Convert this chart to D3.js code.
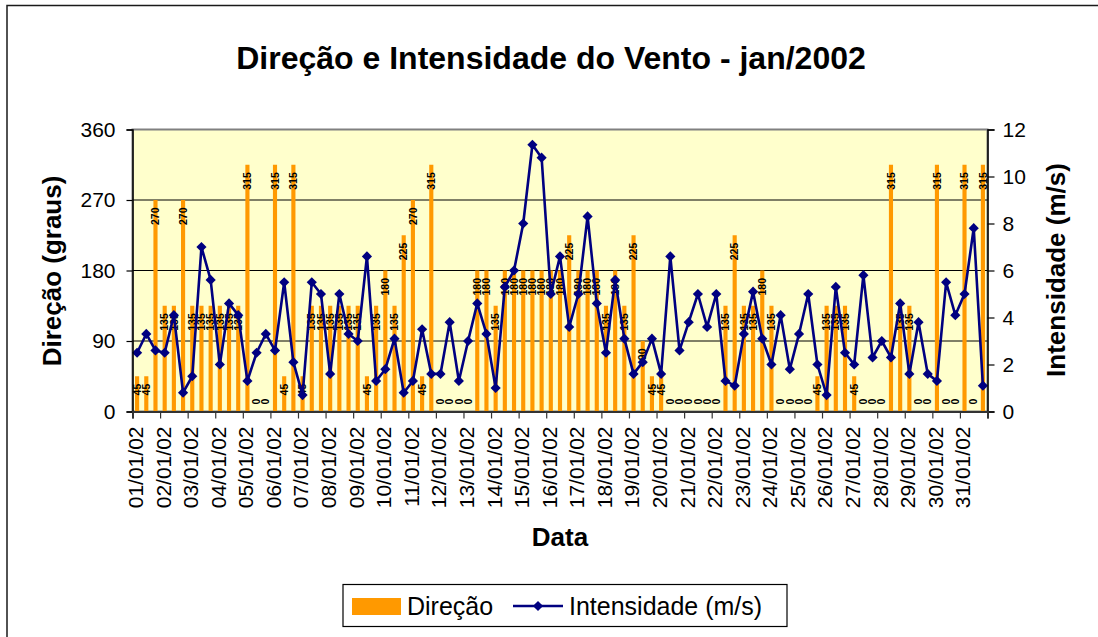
<!DOCTYPE html>
<html>
<head>
<meta charset="utf-8">
<script src="https://cdn.jsdelivr.net/npm/d3@7"></script>
<style>
  html, body { margin: 0; padding: 0; background: #fff; }
  svg { display: block; }
  text { font-family: "Liberation Sans", Arial, sans-serif; }
</style>
</head>
<body>
<svg id="chart" width="1098" height="637"></svg>
<script>
// Day labels shown under the axis (one per day, three observations per day)
const days = [
  "01/01/02","02/01/02","03/01/02","04/01/02","05/01/02","06/01/02","07/01/02","08/01/02",
  "09/01/02","10/01/02","11/01/02","12/01/02","13/01/02","14/01/02","15/01/02","16/01/02",
  "17/01/02","18/01/02","19/01/02","20/01/02","21/01/02","22/01/02","23/01/02","24/01/02",
  "25/01/02","26/01/02","27/01/02","28/01/02","29/01/02","30/01/02","31/01/02"
];

// Wind direction (degrees) for each observation
const direcao = [
  45, 45, 270, 135, 135, 270, 135, 135, 135, 135, 135, 135, 315, 0, 0,
  315, 45, 315, 45, 135, 135, 135, 135, 135, 135, 45, 135, 180, 135, 225, 270,
  45, 315, 0, 0, 0, 0, 180, 180, 135, 180, 180, 180, 180, 180, 180, 180,
  225, 180, 180, 180, 135, 180, 135, 225, 90, 45, 45, 0, 0, 0, 0, 0, 0,
  135, 225, 135, 135, 180, 135, 0, 0, 0, 0, 45, 135, 135, 135,
  45, 0, 0, 0, 315, 135, 135, 0, 0, 315, 0, 0, 315, 0, 315
];

// Wind speed (m/s) for each observation
const intensidade = [
  2.5, 3.3, 2.6, 2.5, 4.1, 0.8, 1.5, 7.0, 5.6, 2.0, 4.6, 4.1, 1.3, 2.5, 3.3,
  2.6, 5.5, 2.1, 0.7, 5.5, 5.0, 1.6, 5.0, 3.3, 3.0, 6.6, 1.3, 1.8, 3.1, 0.8, 1.3,
  3.5, 1.6, 1.6, 3.8, 1.3, 3.0, 4.6, 3.3, 1.0, 5.3, 6.0, 8.0, 11.35, 10.8, 5.0, 6.6,
  3.6, 5.0, 8.3, 4.6, 2.5, 5.6, 3.1, 1.6, 2.1, 3.1, 1.6, 6.6, 2.6, 3.8, 5.0, 3.6, 5.0,
  1.3, 1.1, 3.3, 5.1, 3.1, 2.0, 4.1, 1.8, 3.3, 5.0, 2.0, 0.7, 5.3, 2.5,
  2.0, 5.8, 2.3, 3.0, 2.3, 4.6, 1.6, 3.8, 1.6, 1.3, 5.5, 4.1, 5.0, 7.8, 1.1
];

const dirTicks = [0, 90, 180, 270, 360];
const velTicks = [0, 2, 4, 6, 8, 10, 12];

const svg = d3.select("#chart");
const FONT = '"Liberation Sans", Arial, sans-serif';

const plot = { left: 132.5, right: 987.5, top: 129.5, bottom: 411.5 };
const n = direcao.length;
const perDay = 3;

// Outer chart frame
svg.append("rect")
  .attr("x", 7).attr("y", 5.5)
  .attr("width", 1200).attr("height", 800)
  .attr("fill", "#fff").attr("stroke", "#1a1a1a").attr("stroke-width", 1.5);

// Scales
const x = d3.scaleBand()
  .domain(d3.range(n))
  .range([plot.left, plot.right])
  .paddingInner(0.55)
  .paddingOuter(0.275);
const xEdge = d3.scaleLinear().domain([0, n]).range([plot.left, plot.right]);
const yL = d3.scaleLinear().domain([0, 360]).range([plot.bottom, plot.top]);
const yR = d3.scaleLinear().domain([0, 12]).range([plot.bottom, plot.top]);

// Plot background
svg.append("rect")
  .attr("x", plot.left).attr("y", plot.top)
  .attr("width", plot.right - plot.left).attr("height", plot.bottom - plot.top)
  .attr("fill", "#FFFFCC").attr("stroke", "#808080").attr("stroke-width", 2);

// Horizontal gridlines
svg.append("g")
  .selectAll("line")
  .data(dirTicks.filter(d => d > 0 && d < 360))
  .join("line")
  .attr("x1", plot.left).attr("x2", plot.right)
  .attr("y1", d => yL(d)).attr("y2", d => yL(d))
  .attr("stroke", "#000").attr("stroke-width", 1);

// Bars: direction
svg.append("g")
  .selectAll("rect")
  .data(direcao)
  .join("rect")
  .attr("x", (d, i) => x(i))
  .attr("width", x.bandwidth())
  .attr("y", d => yL(d))
  .attr("height", d => yL(0) - yL(d))
  .attr("fill", "#FF9900");

// Bar value labels, rotated, placed just inside the top of each bar
const lbl = svg.append("g")
  .selectAll("text")
  .data(direcao)
  .join("text")
  .attr("font-family", FONT)
  .attr("font-size", 10.5)
  .attr("font-weight", "bold")
  .attr("fill", "#000")
  .attr("dy", "0.35em")
  .text(d => d);
lbl.each(function (d, i) {
  const t = d3.select(this);
  const len = this.getComputedTextLength();
  const cx = x(i) + x.bandwidth() / 2;
  const top = yL(d);
  if (yL(0) - top >= len + 15) {
    t.attr("text-anchor", "end")
      .attr("transform", `translate(${cx},${top + 7.5}) rotate(-90)`);
  } else {
    t.attr("text-anchor", "start")
      .attr("transform", `translate(${cx},${yL(0) - 7}) rotate(-90)`);
  }
});

// Line: intensity
const line = d3.line()
  .x((d, i) => x(i) + x.bandwidth() / 2)
  .y(d => yR(d));
svg.append("path")
  .datum(intensidade)
  .attr("d", line)
  .attr("fill", "none")
  .attr("stroke", "#000080")
  .attr("stroke-width", 2.6)
  .attr("stroke-linejoin", "round");

const diamond = d3.symbol().type(d3.symbolDiamond2).size(66);
svg.append("g")
  .selectAll("path")
  .data(intensidade)
  .join("path")
  .attr("d", diamond)
  .attr("transform", (d, i) => `translate(${x(i) + x.bandwidth() / 2},${yR(d)})`)
  .attr("fill", "#000080");

// Left axis
const axL = svg.append("g")
  .attr("transform", `translate(${plot.left},0)`)
  .call(d3.axisLeft(yL).tickValues(dirTicks).tickSize(6).tickPadding(11));
axL.select(".domain").attr("stroke", "#000").attr("stroke-width", 1.5);
axL.selectAll(".tick line").attr("stroke", "#000").attr("stroke-width", 1.2);
axL.selectAll(".tick text").attr("font-family", FONT).attr("font-size", 21).attr("fill", "#000");

// Right axis
const axR = svg.append("g")
  .attr("transform", `translate(${plot.right},0)`)
  .call(d3.axisRight(yR).tickValues(velTicks).tickSize(7).tickPadding(8));
axR.select(".domain").attr("stroke", "#000").attr("stroke-width", 1.5);
axR.selectAll(".tick line").attr("stroke", "#000").attr("stroke-width", 1.2);
axR.selectAll(".tick text").attr("font-family", FONT).attr("font-size", 21).attr("fill", "#000");

// Bottom axis: tick marks at day boundaries
const axB = svg.append("g")
  .attr("transform", `translate(0,${plot.bottom})`)
  .call(d3.axisBottom(xEdge).tickValues(d3.range(0, n + 1, perDay)).tickSize(7).tickFormat(""));
axB.select(".domain").attr("stroke", "#333").attr("stroke-width", 2);
axB.selectAll(".tick line").attr("stroke", "#333").attr("stroke-width", 1.2);

// Bottom axis: day labels on the first observation of each day
const axBL = svg.append("g")
  .attr("transform", `translate(0,${plot.bottom})`)
  .call(d3.axisBottom(x).tickValues(d3.range(0, n, perDay)).tickSize(0)
    .tickFormat(i => days[i / perDay]));
axBL.select(".domain").remove();
axBL.selectAll(".tick text")
  .attr("font-family", FONT).attr("font-size", 21).attr("fill", "#000")
  .attr("text-anchor", "end")
  .attr("transform", "translate(-1.5,15) rotate(-90)")
  .attr("x", 0).attr("y", 0).attr("dy", "0.35em");

// Titles
svg.append("text")
  .attr("x", 551).attr("y", 69)
  .attr("text-anchor", "middle")
  .attr("font-family", FONT).attr("font-size", 32).attr("font-weight", "bold")
  .text("Direção e Intensidade do Vento - jan/2002");

svg.append("text")
  .attr("transform", "translate(52,271) rotate(-90)")
  .attr("text-anchor", "middle").attr("dy", "0.35em")
  .attr("font-family", FONT).attr("font-size", 26).attr("font-weight", "bold")
  .text("Direção (graus)");

svg.append("text")
  .attr("transform", "translate(1056,270) rotate(-90)")
  .attr("text-anchor", "middle").attr("dy", "0.35em")
  .attr("font-family", FONT).attr("font-size", 26).attr("font-weight", "bold")
  .text("Intensidade (m/s)");

svg.append("text")
  .attr("x", (plot.left + plot.right) / 2).attr("y", 546)
  .attr("text-anchor", "middle")
  .attr("font-family", FONT).attr("font-size", 26).attr("font-weight", "bold")
  .text("Data");

// Legend
const lg = svg.append("g");
lg.append("rect")
  .attr("x", 343).attr("y", 584.5).attr("width", 444).attr("height", 42)
  .attr("fill", "#fff").attr("stroke", "#000").attr("stroke-width", 1.2);
lg.append("rect")
  .attr("x", 352).attr("y", 598).attr("width", 49).attr("height", 17)
  .attr("fill", "#FF9900");
lg.append("text")
  .attr("x", 407).attr("y", 615)
  .attr("font-family", FONT).attr("font-size", 25)
  .text("Direção");
lg.append("line")
  .attr("x1", 513).attr("x2", 563).attr("y1", 606).attr("y2", 606)
  .attr("stroke", "#000080").attr("stroke-width", 2.6);
lg.append("path")
  .attr("d", diamond)
  .attr("transform", "translate(538,606)")
  .attr("fill", "#000080");
lg.append("text")
  .attr("x", 569).attr("y", 615)
  .attr("font-family", FONT).attr("font-size", 25)
  .text("Intensidade (m/s)");
</script>
</body>
</html>
